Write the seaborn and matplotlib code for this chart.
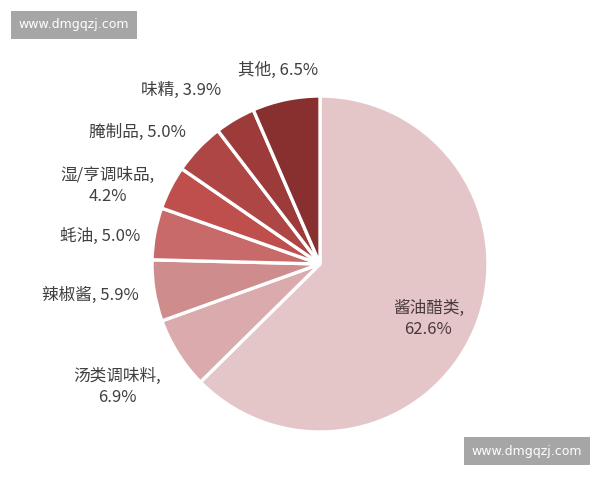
import numpy as np
import matplotlib
matplotlib.use('Agg')
import matplotlib.pyplot as plt
import seaborn as sns

# data
categories = ['酱油醋类', '汤类调味料', '辣椒酱', '蚝油', '湿/亨调味品', '腌制品', '味精', '其他']
shares = [62.6, 6.9, 5.9, 5.0, 4.2, 5.0, 3.9, 6.5]
label_text = ['酱油醋类,\n62.6%', '汤类调味料,\n6.9%', '辣椒酱, 5.9%', '蚝油, 5.0%',
              '湿/亨调味品,\n4.2%', '腌制品, 5.0%', '味精, 3.9%', '其他, 6.5%']
colors = ['#E4C6C9', '#DAAAAD', '#CF8C8D', '#C86A6A',
          '#BF4F4D', '#AD4644', '#9C3B3A', '#883030']
# label anchor positions (in pie radii, relative to the centre)
label_pos = [(0.645, -0.327), (-1.208, -0.732), (-1.369, -0.185), (-1.311, 0.167),
             (-1.262, 0.464), (-1.089, 0.786), (-0.827, 1.036), (-0.250, 1.153)]

sns.set_theme(style='white')
plt.rcParams['font.family'] = ['Noto Sans CJK SC', 'DejaVu Sans']

fig = plt.figure(figsize=(6, 4.8), dpi=100)
ax = fig.add_axes([0, 0, 1, 1])

wedges, _ = ax.pie(shares, colors=sns.color_palette(colors), startangle=90,
                   counterclock=False, radius=1.0,
                   wedgeprops=dict(edgecolor='white', linewidth=2.4))

for i, txt in enumerate(label_text):
    x, y = label_pos[i]
    col = '#4A3A3C' if i == 0 else '#404040'
    ax.text(x, y, txt, ha='center', va='center', fontsize=12, color=col,
            linespacing=1.3)

ax.set_xlim(-320 / 168, 280 / 168)
ax.set_ylim(-216 / 168, 264 / 168)
ax.set_aspect('equal')
ax.axis('off')

# watermarks
for (wx, wy) in [(0.123, 0.948), (0.878, 0.060)]:
    fig.text(wx, wy, 'www.dmgqzj.com', ha='center', va='center', fontsize=9,
             color='white', family='DejaVu Sans',
             bbox=dict(facecolor='#A6A6A6', edgecolor='none', boxstyle='square,pad=0.6'))

fig.savefig('out.png', dpi=100)
